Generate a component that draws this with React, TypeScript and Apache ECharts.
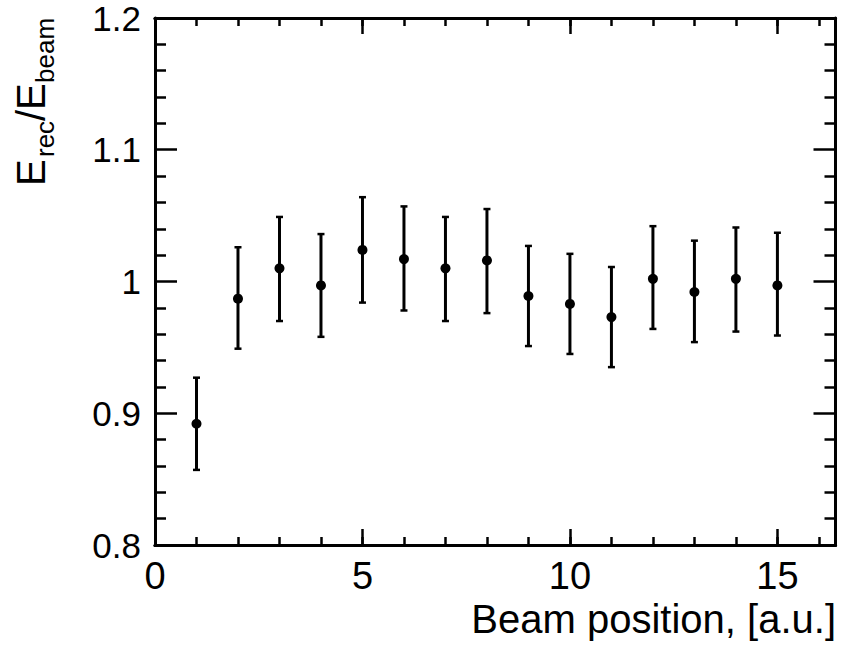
import React, { useEffect, useRef } from "react";
import * as echarts from "echarts";

const positions = [1, 2, 3, 4, 5, 6, 7, 8, 9, 10, 11, 12, 13, 14, 15];
const ratio = [0.892, 0.987, 1.010, 0.997, 1.024, 1.017, 1.010, 1.016, 0.989, 0.983, 0.973, 1.002, 0.992, 1.002, 0.997];
const ratioLow = [0.857, 0.949, 0.970, 0.958, 0.984, 0.978, 0.970, 0.976, 0.951, 0.945, 0.935, 0.964, 0.954, 0.962, 0.959];
const ratioHigh = [0.927, 1.026, 1.049, 1.036, 1.064, 1.057, 1.049, 1.055, 1.027, 1.021, 1.011, 1.042, 1.031, 1.041, 1.037];
const xMajorTicks = [0, 5, 10, 15];

const FONT = "'Liberation Sans', Arial, Helvetica, sans-serif";
const BLACK = "#000";

function xAxisDef(position: "top" | "bottom", interval: number, len: number, labels: boolean) {
  return {
    type: "value",
    position,
    min: 0,
    max: 16.4,
    interval,
    axisLine: { show: true, onZero: false, lineStyle: { color: BLACK, width: 3 } },
    axisTick: { show: true, inside: true, length: len, lineStyle: { color: BLACK, width: 2.5 } },
    axisLabel: {
      show: labels,
      margin: 12,
      fontSize: 38,
      fontFamily: FONT,
      color: BLACK,
      showMaxLabel: false,
      formatter: (v: number) => (xMajorTicks.includes(v) ? String(v) : ""),
    },
    splitLine: { show: false },
  };
}

function yAxisDef(position: "left" | "right", labels: boolean) {
  return {
    type: "value",
    position,
    min: 0.8,
    max: 1.2,
    interval: 0.1,
    axisLine: { show: true, onZero: false, lineStyle: { color: BLACK, width: 3 } },
    axisTick: { show: true, inside: true, length: 22, lineStyle: { color: BLACK, width: 2.5 } },
    minorTick: { show: true, splitNumber: 5, length: 11, lineStyle: { color: BLACK, width: 2.5 } },
    axisLabel: { show: labels, margin: 14, fontSize: 35, lineHeight: 28, padding: [4, 0, 0, 0], fontFamily: FONT, color: BLACK },
    splitLine: { show: false },
    minorSplitLine: { show: false },
  };
}

export default function App() {
  const ref = useRef<HTMLDivElement>(null);
  useEffect(() => {
    document.body.style.margin = "0";
    if (!ref.current) return;
    const chart = echarts.init(ref.current, undefined, { renderer: "svg" });
    const data = positions.map((x, i) => [x, ratio[i], ratioLow[i], ratioHigh[i]]);
    chart.setOption({
      animation: false,
      backgroundColor: "#fff",
      grid: { left: 155, right: 12.5, top: 18, bottom: 100, containLabel: false },
      xAxis: [
        xAxisDef("bottom", 5, 16, true),
        xAxisDef("bottom", 1, 8, false),
        xAxisDef("top", 5, 16, false),
        xAxisDef("top", 1, 8, false),
      ],
      yAxis: [yAxisDef("left", true), yAxisDef("right", false)],
      graphic: [
        { type: "text", x: 31, y: 186, rotation: Math.PI / 2, style: { text: "E", fontSize: 40, fontFamily: FONT, fill: BLACK, align: "left", verticalAlign: "middle" } },
        { type: "text", x: 45, y: 157, rotation: Math.PI / 2, style: { text: "rec", fontSize: 26, fontFamily: FONT, fill: BLACK, align: "left", verticalAlign: "middle" } },
        { type: "text", x: 31, y: 121, rotation: Math.PI / 2, style: { text: "/", fontSize: 40, fontFamily: FONT, fill: BLACK, align: "left", verticalAlign: "middle" } },
        { type: "text", x: 31, y: 110, rotation: Math.PI / 2, style: { text: "E", fontSize: 40, fontFamily: FONT, fill: BLACK, align: "left", verticalAlign: "middle" } },
        { type: "text", x: 45, y: 83, rotation: Math.PI / 2, style: { text: "beam", fontSize: 26, fontFamily: FONT, fill: BLACK, align: "left", verticalAlign: "middle" } },
        { type: "text", x: 836, y: 619, style: { text: "Beam position, [a.u.]", fontSize: 40, fontFamily: FONT, fill: BLACK, align: "right", verticalAlign: "middle" } },
      ],
      series: [
        {
          type: "custom",
          xAxisIndex: 0,
          yAxisIndex: 0,
          data,
          encode: { x: 0, y: [2, 3] },
          renderItem: (params: any, api: any) => {
            const x = api.value(0);
            const lo = api.coord([x, api.value(2)]);
            const hi = api.coord([x, api.value(3)]);
            const cap = 3.5;
            const st = { stroke: BLACK, lineWidth: 3 };
            return {
              type: "group",
              children: [
                { type: "line", shape: { x1: lo[0], y1: lo[1], x2: hi[0], y2: hi[1] }, style: st },
                { type: "line", shape: { x1: lo[0] - cap, y1: lo[1], x2: lo[0] + cap, y2: lo[1] }, style: { stroke: BLACK, lineWidth: 2.5 } },
                { type: "line", shape: { x1: hi[0] - cap, y1: hi[1], x2: hi[0] + cap, y2: hi[1] }, style: { stroke: BLACK, lineWidth: 2.5 } },
              ],
            };
          },
          z: 2,
        },
        {
          type: "scatter",
          xAxisIndex: 0,
          yAxisIndex: 0,
          data: positions.map((x, i) => [x, ratio[i]]),
          symbol: "circle",
          symbolSize: 10,
          itemStyle: { color: BLACK, opacity: 1 },
          z: 3,
        },
      ],
    });
    return () => chart.dispose();
  }, []);
  return <div ref={ref} style={{ width: 848, height: 645 }} />;
}
